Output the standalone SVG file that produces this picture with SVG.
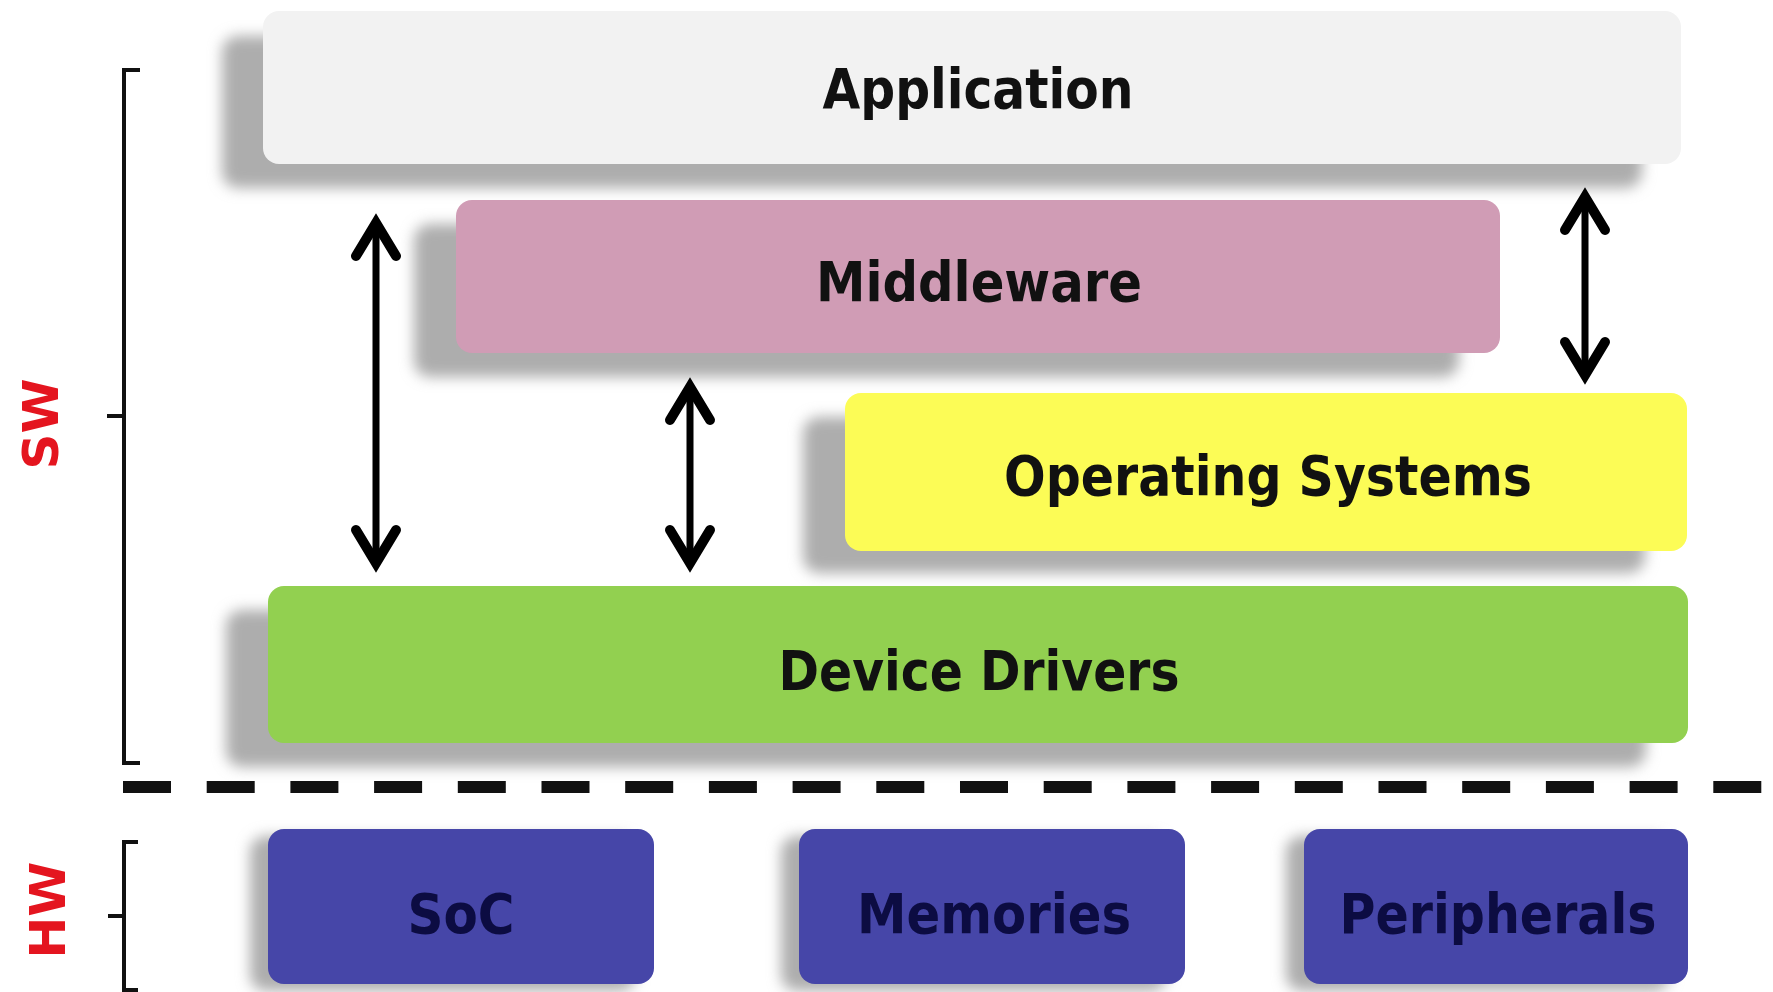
<svg xmlns="http://www.w3.org/2000/svg" width="1773" height="992" viewBox="0 0 1773 992">
  <defs>
    <filter id="blur" x="-10%" y="-30%" width="120%" height="160%">
      <feGaussianBlur stdDeviation="7"/>
    </filter>
    <style>
      .lbl { font-family: "DejaVu Sans", Verdana, sans-serif; font-weight: bold; font-size: 56px; text-anchor: middle; fill: #111; }
      .hwl { fill: #0c0c42; }
      .side { font-family: "DejaVu Sans", Verdana, sans-serif; font-weight: bold; font-size: 50px; text-anchor: middle; fill: #e4151f; }
      .shadow { fill: #adadad; filter: url(#blur); }
      .br { fill: none; stroke: #111; stroke-width: 4; }
      .shaft { fill: none; stroke: #000; stroke-width: 7; }
      .head { fill: none; stroke: #000; stroke-width: 10; stroke-linecap: round; stroke-linejoin: miter; stroke-miterlimit: 10; }
    </style>
  </defs>
  <rect width="1773" height="992" fill="#ffffff"/>

  <g id="brackets">
    <path class="br" d="M140,70 H124 V763 H140 M124,416 H107"/>
    <path class="br" d="M138,842 H124 V990 H138 M124,916 H108"/>
    <text class="side" transform="translate(58,424) rotate(-90)">SW</text>
    <text class="side" transform="translate(65,910) rotate(-90)">HW</text>
  </g>

  <g id="application">
    <rect class="shadow" x="222" y="36" width="1420" height="152" rx="16"/>
    <rect x="263" y="11" width="1418" height="153" rx="16" fill="#f2f2f2"/>
    <text class="lbl" x="978" y="108" textLength="311" lengthAdjust="spacingAndGlyphs">Application</text>
  </g>

  <g id="middleware">
    <rect class="shadow" x="414" y="224" width="1045" height="153" rx="16"/>
    <rect x="456" y="200" width="1044" height="153" rx="16" fill="#d09cb5"/>
    <text class="lbl" x="979" y="301" textLength="326" lengthAdjust="spacingAndGlyphs">Middleware</text>
  </g>

  <g id="operating-systems">
    <rect class="shadow" x="803" y="417" width="842" height="156" rx="16"/>
    <rect x="845" y="393" width="842" height="158" rx="16" fill="#fcfc56"/>
    <text class="lbl" x="1268" y="495" textLength="528" lengthAdjust="spacingAndGlyphs">Operating Systems</text>
  </g>

  <g id="device-drivers">
    <rect class="shadow" x="226" y="610" width="1420" height="157" rx="16"/>
    <rect x="268" y="586" width="1420" height="157" rx="16" fill="#92d050"/>
    <text class="lbl" x="979" y="690" textLength="401" lengthAdjust="spacingAndGlyphs">Device Drivers</text>
  </g>

  <g id="divider">
    <line x1="123" y1="787" x2="1773" y2="787" stroke="#111" stroke-width="12" stroke-dasharray="48 35.7"/>
  </g>

  <g id="soc">
    <rect class="shadow" x="250" y="836" width="386" height="155" rx="16"/>
    <rect x="268" y="829" width="386" height="155" rx="16" fill="#4646a8"/>
    <text class="lbl hwl" x="461" y="933" textLength="107" lengthAdjust="spacingAndGlyphs">SoC</text>
  </g>

  <g id="memories">
    <rect class="shadow" x="781" y="836" width="386" height="155" rx="16"/>
    <rect x="799" y="829" width="386" height="155" rx="16" fill="#4646a8"/>
    <text class="lbl hwl" x="994" y="933" textLength="274" lengthAdjust="spacingAndGlyphs">Memories</text>
  </g>

  <g id="peripherals">
    <rect class="shadow" x="1286" y="836" width="384" height="155" rx="16"/>
    <rect x="1304" y="829" width="384" height="155" rx="16" fill="#4646a8"/>
    <text class="lbl hwl" x="1498" y="933" textLength="317" lengthAdjust="spacingAndGlyphs">Peripherals</text>
  </g>

  <g id="connectors">
    <g>
      <line class="shaft" x1="376" y1="226" x2="376" y2="560"/>
      <path class="head" d="M356,256 L376,223 L396,256"/>
      <path class="head" d="M356,530 L376,563 L396,530"/>
    </g>
    <g>
      <line class="shaft" x1="690" y1="390" x2="690" y2="560"/>
      <path class="head" d="M670,420 L690,387 L710,420"/>
      <path class="head" d="M670,530 L690,563 L710,530"/>
    </g>
    <g>
      <line class="shaft" x1="1585" y1="200" x2="1585" y2="372"/>
      <path class="head" d="M1565,230 L1585,197 L1605,230"/>
      <path class="head" d="M1565,342 L1585,375 L1605,342"/>
    </g>
  </g>
</svg>
